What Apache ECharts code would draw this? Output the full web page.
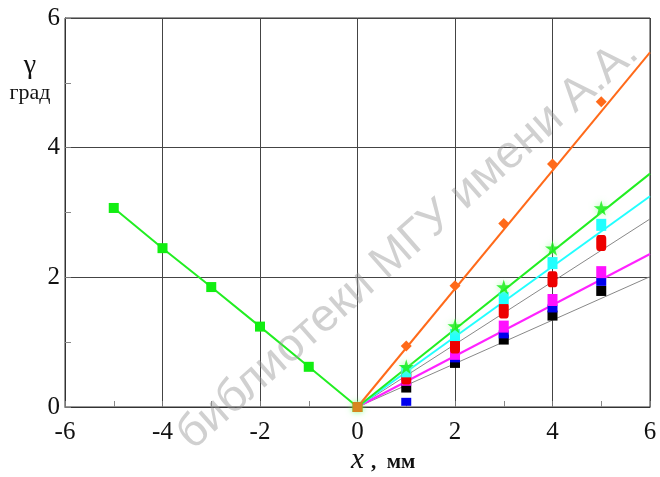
<!DOCTYPE html>
<html>
<head>
<meta charset="utf-8">
<script src="https://cdn.jsdelivr.net/npm/echarts@6/dist/echarts.min.js"></script>
<style>
  html, body { margin: 0; padding: 0; background: #fff; }
  #chart { width: 660px; height: 477px; }
</style>
</head>
<body>
<div id="chart"></div>
<script>
  // левая ветвь
  var leftX = [-5, -4, -3, -2, -1, 0];
  var leftY = [3.07, 2.45, 1.85, 1.24, 0.62, 0];

  // правая ветвь: точки
  var rightX = [1, 2, 3, 4, 5];
  var orangePts = [0.94, 1.87, 2.83, 3.75, 4.71];
  var greenPts = [0.62, 1.25, 1.85, 2.45, 3.07];
  var cyanPts = [0.55, 1.11, 1.68, 2.22, 2.81];
  var redPts = [0.47, 0.95, 1.49, 1.97, 2.53];
  var magentaPts = [0.42, 0.82, 1.24, 1.65, 2.08];
  var bluePts = [0.08, 0.75, 1.12, 1.52, 1.93];
  var blackPts = [0.30, 0.68, 1.04, 1.41, 1.79];

  // аппроксимирующие прямые из нуля: значение при x = 6
  var fitX = [0, 6];
  var orangeFit = [0, 5.47];
  var greenFit = [0, 3.6];
  var cyanFit = [0, 3.25];
  var grayFit1 = [0, 2.9];
  var magentaFit = [0, 2.36];
  var grayFit2 = [0, 2.01];

  var labelFont = 'serif';

  function pairs(xs, ys) {
    return xs.map(function (x, i) { return [x, ys[i]]; });
  }

  var star = 'path://M50,0 L61,35 L98,35 L68,57 L79,91 L50,70 L21,91 L32,57 L2,35 L39,35 Z';

  function fitLine(ys, color, width) {
    return {
      type: 'line', data: pairs(fitX, ys), symbol: 'none', silent: true,
      lineStyle: { color: color, width: width }, z: 3
    };
  }
  function pts(ys, color, symbol, size) {
    return {
      type: 'scatter', data: pairs(rightX, ys), symbol: symbol, symbolSize: size,
      itemStyle: { color: color, opacity: 1 }, z: 5
    };
  }

  var axisCommon = {
    type: 'value', interval: 2,
    axisLine: { show: true, onZero: false, lineStyle: { color: '#333', width: 1 } },
    axisTick: { show: true, inside: true, length: 6, lineStyle: { color: '#777' } },
    minorTick: { show: true, splitNumber: 2, length: 6, lineStyle: { color: '#888' } },
    splitLine: { show: true, lineStyle: { color: '#444', width: 1 } }
  };

  var myChart = echarts.init(document.getElementById('chart'));
  myChart.setOption({
    animation: false,
    textStyle: { fontFamily: labelFont },
    grid: {
      left: 65, right: 10, top: 18, bottom: 70,
      show: true, borderColor: '#333', borderWidth: 1
    },
    xAxis: Object.assign({}, axisCommon, {
      min: -6, max: 6,
      axisLabel: { fontFamily: labelFont, fontSize: 25, color: '#111', margin: 13 }
    }),
    yAxis: Object.assign({}, axisCommon, {
      min: 0, max: 6,
      axisLabel: { fontFamily: labelFont, fontSize: 25, color: '#111', margin: 5 }
    }),
    graphic: [
      { type: 'text', x: 30, y: 52, style: { text: 'γ', font: '28px serif', fill: '#111', align: 'center' } },
      { type: 'text', x: 30, y: 82, style: { text: 'град', font: '22px serif', fill: '#111', align: 'center' } },
      { type: 'text', x: 351, y: 446, style: { text: 'x', font: 'italic 29px serif', fill: '#111' } },
      { type: 'text', x: 371, y: 452, style: { text: ',  мм', font: 'bold 21px serif', fill: '#111' } },
      {
        type: 'text', x: 408, y: 244, rotation: Math.atan2(450, 510), z: 100,
        style: {
          text: 'библиотеки МГУ имени А.А.', font: '46px sans-serif',
          fill: 'rgba(150,150,150,0.45)', align: 'center', verticalAlign: 'middle'
        }
      }
    ],
    series: [
      {
        type: 'line', data: pairs(leftX, leftY), symbol: 'rect', symbolSize: 10,
        lineStyle: { color: '#22ee22', width: 2 }, itemStyle: { color: '#11ee11' }, z: 4
      },
      fitLine(grayFit2, '#888', 1),
      fitLine(grayFit1, '#888', 1),
      fitLine(magentaFit, '#ff22ff', 2),
      fitLine(cyanFit, '#22ffff', 2),
      fitLine(greenFit, '#22ee22', 2),
      fitLine(orangeFit, '#ff6a1a', 2),
      pts(blackPts, '#000', 'rect', [10, 10]),
      pts(bluePts, '#0000ee', 'rect', [10, 8]),
      pts(magentaPts, '#ff11ff', 'rect', [10, 12]),
      pts(redPts, '#ee0000', 'roundRect', [10, 16]),
      pts(cyanPts, '#22ffff', 'rect', [10, 12]),
      {
        type: 'scatter', data: pairs(rightX, greenPts), symbol: star, symbolSize: 15,
        itemStyle: { color: '#11ee11', shadowBlur: 6, shadowColor: '#99ff99' }, z: 6
      },
      pts(orangePts, '#ff6a1a', 'diamond', [11, 11]),
      {
        type: 'scatter', data: [[0, 0]], symbol: 'rect', symbolSize: 10,
        itemStyle: { color: '#ff6a1a', shadowBlur: 6, shadowColor: '#66ff66' }, z: 7
      }
    ]
  });
</script>
</body>
</html>
